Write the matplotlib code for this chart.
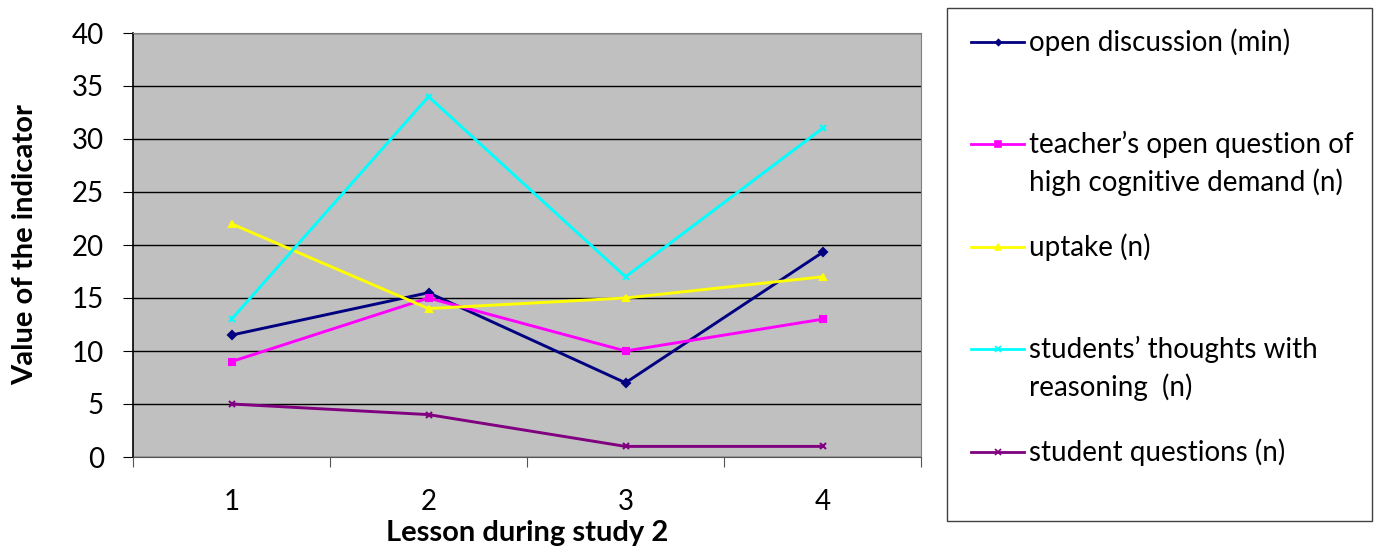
import matplotlib
matplotlib.use("Agg")
import matplotlib.pyplot as plt
from matplotlib.lines import Line2D

lessons = [1, 2, 3, 4]
open_discussion = [11.5, 15.5, 7, 19.3]
teacher_questions = [9, 15, 10, 13]
uptake = [22, 14, 15, 17]
students_thoughts = [13, 34, 17, 31]
student_questions = [5, 4, 1, 1]

labels = ["open discussion (min)",
          "teacher\u2019s open question of\nhigh cognitive demand (n)",
          "uptake (n)",
          "students\u2019 thoughts with\nreasoning  (n)",
          "student questions (n)"]
colors = ["#000080", "#FF00FF", "#FFFF00", "#00FFFF", "#800080"]
markers = ["D", "s", "^", "x", "x"]
msizes = [4, 5, 5, 5, 5]
series = [open_discussion, teacher_questions, uptake, students_thoughts, student_questions]

plt.rcParams['font.family'] = ['Lato', 'DejaVu Sans']
FS = 20

W, H = 1376, 550
fig = plt.figure(figsize=(W / 100, H / 100), dpi=100)
ax = fig.add_axes([133 / W, 1 - 457 / H, (921 - 133) / W, (457 - 33) / H])
ax.set_facecolor("#C0C0C0")

for vals, c, m, ms in zip(series, colors, markers, msizes):
    ax.plot(lessons, vals, color=c, lw=2.1, marker=m, markersize=ms,
            markeredgewidth=1.5, zorder=3)

ax.set_xlim(0.5, 4.5)
ax.set_ylim(0, 40)
ax.set_yticks(range(0, 41, 5))
ax.yaxis.grid(True, color="black", lw=1.0)
ax.set_axisbelow(True)
ax.set_xticks([0.5, 1.5, 2.5, 3.5, 4.5])
ax.set_xticklabels([])
ax.set_xticks(lessons, minor=True)
ax.set_xticklabels([str(v) for v in lessons], minor=True)
ax.tick_params(axis="x", which="minor", length=0, labelsize=FS, pad=23)
ax.tick_params(axis="x", which="major", length=7, color="#555555", direction="out")
ax.tick_params(axis="y", length=7, labelsize=FS, direction="out", pad=14)
for s in ["top", "right"]:
    ax.spines[s].set_color("#808080")
ax.spines["left"].set_color("black")
ax.spines["bottom"].set_color("#555555")
ax.spines["left"].set_linewidth(1.2)

ax.set_xlabel("Lesson during study 2", fontsize=21, fontweight="bold", labelpad=4)
ax.set_ylabel("Value of the indicator", fontsize=21, fontweight="bold", labelpad=24)

# Legend box
box = plt.Rectangle((947 / W, 1 - 521 / H), (1372 - 947) / W, (521 - 8) / H,
                    transform=fig.transFigure, fill=False, edgecolor="#404040", lw=1.0)
fig.add_artist(box)
ys = [42, 144, 247, 349, 452]
for y, lab, c, m, ms in zip(ys, labels, colors, markers, msizes):
    yf = 1 - y / H
    fig.add_artist(Line2D([971 / W, 1024 / W], [yf, yf], transform=fig.transFigure,
                          color=c, lw=2.0))
    fig.add_artist(Line2D([997.5 / W], [yf], transform=fig.transFigure, color=c,
                          marker=m, markersize=ms - 1, markeredgewidth=1.2))
    if "\n" in lab:
        fig.text(1029 / W, 1 - (y - 13) / H, lab, fontsize=FS, va="top", ha="left",
                 linespacing=1.45)
    else:
        fig.text(1029 / W, yf, lab, fontsize=FS, va="center", ha="left")

fig.savefig("out.png", dpi=100)
